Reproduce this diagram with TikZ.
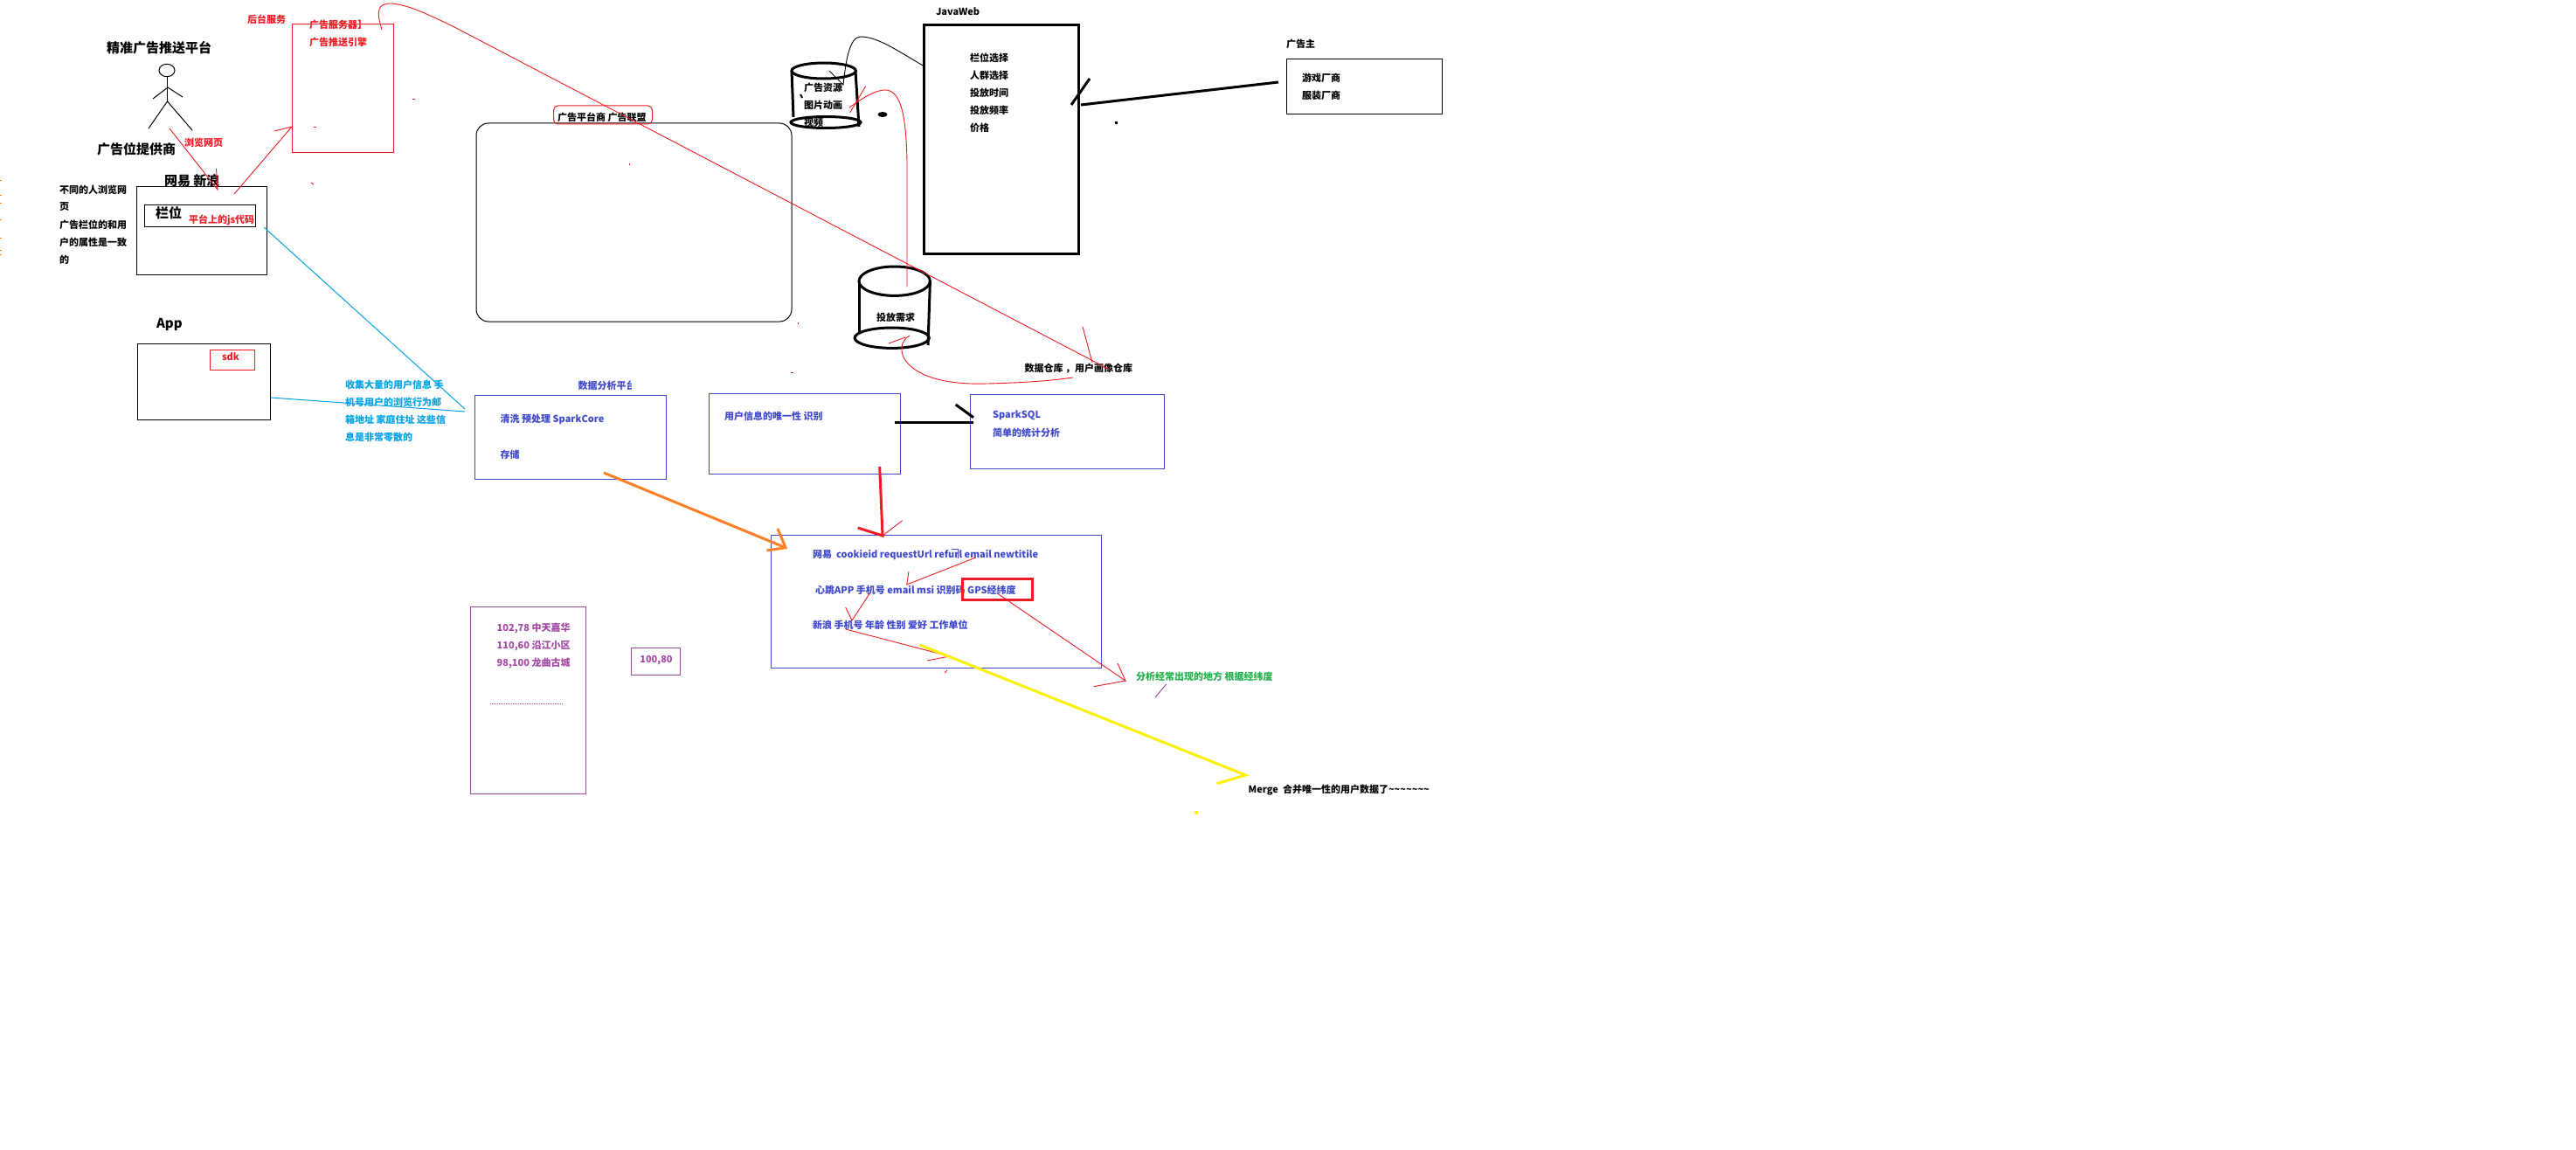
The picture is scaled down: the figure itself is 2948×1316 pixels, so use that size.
\documentclass[tikz,border=0pt]{standalone}
\usepackage{fontspec}
\setmainfont{Noto Sans CJK SC}
\usepackage{tikz}
\usetikzlibrary{calc}

\definecolor{inkred}{RGB}{237,28,36}
\definecolor{inkblue}{RGB}{63,72,204}
\definecolor{inkcyan}{RGB}{0,162,232}
\definecolor{inkorange}{RGB}{255,127,39}
\definecolor{inkyellow}{RGB}{255,242,0}
\definecolor{inkgreen}{RGB}{34,177,76}
\definecolor{inkpurple}{RGB}{163,73,164}

\tikzset{
  box/.style={draw,inner sep=0pt,outer sep=0pt},
  label/.style={inner sep=0pt,outer sep=0pt,anchor=west,font=\fontsize{11}{11}\selectfont\bfseries},
  headline/.style={inner sep=0pt,outer sep=0pt,anchor=west,font=\fontsize{15}{15}\selectfont\bfseries},
  thinred/.style={draw=inkred,line width=0.9pt},
  heavy/.style={line width=3pt}
}

\begin{document}
\begin{tikzpicture}[x=1pt,y=-1pt,line width=1pt]
    \path[use as bounding box,fill=white] (0,0) rectangle (2948,1316);

    % Смуга зліва
    \foreach \y in {207,224,233,252,272,286,291}
        \draw[inkorange] (0,\y) -- (1.5,\y);

    % Людина
    \coordinate (head) at (191,80.5);
    \coordinate (neck) at (191.5,88);
    \coordinate (hip) at (191.5,116);
    \coordinate (shoulder) at (192,100);
    \coordinate (handL) at (175,113);
    \coordinate (handR) at (209,111);
    \coordinate (footL) at (170,147);
    \coordinate (footR) at (220,149);
    \draw (head) ellipse [x radius=9pt,y radius=7.2pt];
    \draw (neck) -- (hip);
    \draw (handL) -- (shoulder) -- (handR);
    \draw (footL) -- (hip) -- (footR);

    % Лівий стовпчик
    \node[headline] (platform) at (122,55) {精准广告推送平台};
    \node[headline] (provider) at (111,171) {广告位提供商};
    \node[headline] (sites) at (188,207) {网易 新浪};
    \node[box,minimum width=149pt,minimum height=101pt] (sitebox) at (231,264) {};
    \node[box,minimum width=127pt,minimum height=25pt] (slotbox) at (229,247) {};
    \node[headline] (slot) at (178,244) {栏位};
    \node[label,inkred] (jscode) at (216,252) {平台上的js代码};
    \node[label] (note1) at (68,217) {不同的人浏览网};
    \node[label] (note2) at (68,237) {页};
    \node[label] (note3) at (68,257) {广告栏位的和用};
    \node[label] (note4) at (68,277) {户的属性是一致};
    \node[label] (note5) at (68,297) {的};
    \node[headline] (app) at (179,371) {App};
    \node[box,minimum width=152pt,minimum height=87pt] (appbox) at (233.5,437) {};
    \node[box,draw=inkred,minimum width=51pt,minimum height=23pt] (sdkbox) at (265.5,412) {};
    \node[label,inkred,anchor=center] (sdk) at (264,408) {sdk};
    \node[label,inkcyan] (collect1) at (395,440) {收集大量的用户信息 手};
    \node[label,inkcyan] (collect2) at (395,460) {机号用户的浏览行为邮};
    \node[label,inkcyan] (collect3) at (395,480) {箱地址 家庭住址 这些信};
    \node[label,inkcyan] (collect4) at (395,500) {息是非常零散的};

    % Сервер реклами
    \node[label,inkred] (backend) at (283,22) {后台服务};
    \node[box,draw=inkred,minimum width=116pt,minimum height=147pt] (serverbox) at (392.5,101) {};
    \node[label,inkred] (server) at (354,28) {广告服务器】};
    \node[label,inkred] (engine) at (354,48) {广告推送引擎};

    % Рекламна платформа
    \node[box,rounded corners=14pt,minimum width=361pt,minimum height=227pt] (adbox) at (725.5,254.5) {};
    \node[box,draw=inkred,rounded corners=5pt,minimum width=113pt,minimum height=21pt] (unionbox) at (690,131.5) {};
    \node[label] (union) at (638,134) {广告平台商 广告联盟};

    % Циліндр ресурсів
    \coordinate (resTop) at (942.7,81);
    \coordinate (resBot) at (945,140);
    \draw[heavy] (resTop) ellipse [x radius=36.7pt,y radius=9pt];
    \draw[heavy] (resBot) ellipse [x radius=40pt,y radius=6.5pt];
    \draw[heavy] (906,81) -- (908,134);
    \draw[heavy] (979,81) -- (983,145);
    \node[label] (res1) at (920,100) {广告资源};
    \node[label] (res2) at (920,120) {图片动画};
    \node[label] (res3) at (920,140) {视频};

    % Циліндр потреб
    \coordinate (needTop) at (1023.7,321.7);
    \coordinate (needBot) at (1020.7,386.7);
    \draw[heavy] (needTop) ellipse [x radius=40.7pt,y radius=16.7pt];
    \draw[heavy] (needBot) ellipse [x radius=42.6pt,y radius=11.7pt];
    \draw[heavy] (983.7,322) -- (983.7,382);
    \draw[heavy] (1064.4,322) -- (1062,395);
    \node[label,anchor=center] (need) at (1025,363) {投放需求};

    % JavaWeb
    \node[label] (javaweb) at (1071,13) {JavaWeb};
    \node[box,line width=3pt,minimum width=176.7pt,minimum height=261pt] (webbox) at (1146.3,159.5) {};
    \node[label] (web1) at (1110,66.7) {栏位选择};
    \node[label] (web2) at (1110,86.7) {人群选择};
    \node[label] (web3) at (1110,106.7) {投放时间};
    \node[label] (web4) at (1110,126.7) {投放频率};
    \node[label] (web5) at (1110,146.7) {价格};

    % Рекламодавець
    \node[label] (owner) at (1472,50) {广告主};
    \node[box,minimum width=177.7pt,minimum height=63pt] (ownerbox) at (1561.8,99.5) {};
    \node[label] (owner1) at (1490,89) {游戏厂商};
    \node[label] (owner2) at (1490,109) {服装厂商};

    % Синя частина
    \begin{scope}
        \clip (650,430) rectangle (722,455);
        \node[label,inkblue] (analysis) at (661.5,441.7) {数据分析平台};
    \end{scope}
    \node[box,draw=inkblue,minimum width=219.5pt,minimum height=96pt] (cleanbox) at (653,500.3) {};
    \node[label,inkblue] (clean) at (572.6,480) {清洗 预处理 SparkCore};
    \node[label,inkblue] (store) at (572.6,520) {存储};
    \node[box,draw=inkblue,minimum width=219.5pt,minimum height=92.3pt] (idbox) at (921.2,496.8) {};
    \node[label,inkblue] (idtext) at (829,476.7) {用户信息的唯一性 识别};
    \node[box,draw=inkblue,minimum width=222.3pt,minimum height=85.3pt] (sqlbox) at (1221.8,494.3) {};
    \node[label,inkblue] (sql) at (1136,475) {SparkSQL};
    \node[label,inkblue] (stat) at (1136,495) {简单的统计分析};
    \node[label] (warehouse) at (1172.6,422) {数据仓库 ，用户画像仓库};

    % Об'єднання полів
    \node[box,draw=inkblue,minimum width=378.3pt,minimum height=152.3pt] (mergebox) at (1071.8,688.8) {};
    \node[label,inkblue] (row1) at (930,635) {网易\ \ cookieid requestUrl refurl email newtitile};
    \node[label,inkblue] (row2) at (933,675) {心跳APP 手机号 email msi 识别码 GPS经纬度};
    \node[label,inkblue] (row3) at (930,715) {新浪 手机号 年龄 性别 爱好 工作单位};
    \node[box,draw=inkred,line width=3pt,minimum width=80pt,minimum height=24.7pt] (gpsbox) at (1141.7,674.4) {};
    \node[label,inkgreen] (often) at (1300,774) {分析经常出现的地方 根据经纬度};
    \node[label] (merged) at (1428.7,904) {Merge\ \ 合并唯一性的用户数据了\textasciitilde\textasciitilde\textasciitilde\textasciitilde\textasciitilde\textasciitilde\textasciitilde};

    % Фіолетові блоки
    \node[box,draw=inkpurple,minimum width=132pt,minimum height=213.7pt] (placebox) at (604.3,801.2) {};
    \node[label,inkpurple] (place1) at (568.7,719) {102,78 中天嘉华};
    \node[label,inkpurple] (place2) at (568.7,739) {110,60 沿江小区};
    \node[label,inkpurple] (place3) at (568.7,759) {98,100 龙曲古城};
    \node[box,draw=inkpurple,minimum width=56pt,minimum height=31pt] (pointbox) at (750.3,756.8) {};
    \node[label,inkpurple,anchor=center] (point) at (751,756) {100,80};
    \coordinate (dotsA) at (561,805.7);
    \coordinate (dotsB) at (645,805.7);
    \draw[inkpurple,dash pattern=on 1pt off 1pt] (dotsA) -- (dotsB);

    % Тонкі червоні стрілки
    \coordinate (visitA) at (194,147);
    \coordinate (visitB) at (249,217);
    \coordinate (visitC) at (247.5,193);
    \draw[thinred] (visitA) -- (visitB) -- (visitC);
    \node[label,inkred] (visit) at (211,163) {浏览网页};
    \coordinate (pushA) at (268,222);
    \coordinate (pushB) at (334,145);
    \coordinate (pushC) at (314,150);
    \draw[thinred] (pushA) -- (pushB) -- (pushC);

    % Довга лінія до сховища
    \coordinate (longA) at (437,34);
    \coordinate (longB) at (447,4);
    \coordinate (longC) at (520,31);
    \coordinate (longD) at (1270,423);
    \draw[thinred] (longA) .. controls (431,14) and (431,4) .. (longB)
        .. controls (465,5) and (485,14) .. (longC) -- (longD);
    \coordinate (longH) at (1239,374);
    \coordinate (longI) at (1250,415);
    \draw[thinred] (longH) -- (longI);

    % Вигнуті лінії
    \coordinate (backA) at (1038,328);
    \coordinate (backB) at (1038,185);
    \coordinate (backC) at (972,123);
    \draw[thinred] (backA) -- (backB) .. controls (1037,140) and (1033,103) .. (1013,103)
        .. controls (1003,103) and (990,110) .. (backC);
    \coordinate (backH) at (990.6,98.7);
    \coordinate (backI) at (972.7,129);
    \draw[thinred] (backH) -- (backI);
    \coordinate (wareA) at (1228,432);
    \coordinate (wareB) at (1041,384);
    \draw[thinred] (wareA) .. controls (1200,436) and (1170,438) .. (1130,439)
        .. controls (1100,440) and (1060,437) .. (1040,417)
        .. controls (1028,405) and (1030,390) .. (wareB);
    \coordinate (wareH) at (1017,393);
    \coordinate (wareI) at (1036,386);
    \draw[thinred] (wareH) -- (wareI);

    \coordinate (webA) at (1058,76);
    \coordinate (webB) at (965,97);
    \coordinate (webH) at (949,81);
    \draw[line width=0.9pt] (webA) .. controls (1030,60) and (1005,42) .. (985,42)
        .. controls (972,42) and (968,70) .. (webB) -- (webH);

    % Блакитні лінії
    \coordinate (cyanA) at (302,260);
    \coordinate (cyanB) at (532,468);
    \draw[inkcyan] (cyanA) -- (cyanB);
    \coordinate (cyanC) at (310,455);
    \coordinate (cyanD) at (532,471);
    \draw[inkcyan] (cyanC) -- (cyanD);

    % Чорні товсті стрілки
    \coordinate (ownerA) at (1463,94);
    \coordinate (ownerB) at (1237,120);
    \coordinate (ownerH) at (1247,90);
    \coordinate (ownerI) at (1226,120);
    \draw[heavy] (ownerA) -- (ownerB);
    \draw[heavy] (ownerH) -- (ownerI);
    \coordinate (idA) at (1024.4,483.3);
    \coordinate (idB) at (1114.4,483.3);
    \coordinate (idH) at (1093.7,463);
    \coordinate (idI) at (1114,477.7);
    \draw[heavy] (idA) -- (idB);
    \draw[heavy] (idH) -- (idI);

    % Кольорові стрілки
    \coordinate (cleanA) at (691,541);
    \coordinate (cleanB) at (899,626.7);
    \coordinate (cleanH) at (890,605);
    \coordinate (cleanI) at (877.4,630);
    \draw[inkorange,heavy] (cleanA) -- (cleanB);
    \draw[inkorange,heavy] (cleanH) -- (cleanB) -- (cleanI);
    \coordinate (redA) at (1006.7,534);
    \coordinate (redB) at (1010,613);
    \coordinate (redH) at (981.7,604);
    \draw[inkred,heavy] (redA) -- (redB) -- (redH);
    \coordinate (redI) at (1032.7,595.7);
    \draw[thinred] (redI) -- (redB);

    % Стрілки між рядками
    \coordinate (rowA) at (1116.7,638);
    \coordinate (rowB) at (1037.7,669);
    \coordinate (rowC) at (1040,654);
    \draw[thinred] (rowA) -- (rowB) -- (rowC);
    \coordinate (rowD) at (996,678);
    \coordinate (rowE) at (975,710);
    \coordinate (rowF) at (967.7,695);
    \draw[thinred] (rowD) -- (rowE) -- (rowF);
    \coordinate (rowG) at (967.7,720);
    \coordinate (rowH) at (1086.7,751);
    \coordinate (rowI) at (1061,756);
    \draw[thinred] (rowG) -- (rowH) -- (rowI);
    \coordinate (gpsA) at (1141.7,679.3);
    \coordinate (gpsB) at (1288,779);
    \coordinate (gpsH) at (1279,759);
    \coordinate (gpsI) at (1251.7,785.7);
    \draw[thinred] (gpsA) -- (gpsB) -- (gpsH);
    \draw[thinred] (gpsB) -- (gpsI);
    \coordinate (brkA) at (1089,628);
    \coordinate (brkB) at (1096,628);
    \coordinate (brkC) at (1096,639);
    \draw[inkblue] (brkA) -- (brkB) -- (brkC);

    % Жовта стрілка
    \coordinate (mergeA) at (1052.7,738);
    \coordinate (mergeB) at (1425.5,887);
    \coordinate (mergeH) at (1392.7,896.7);
    \draw[inkyellow,heavy] (mergeA) -- (mergeB) -- (mergeH);

    % Фіолетовий штрих
    \coordinate (tickA) at (1334.6,783);
    \coordinate (tickB) at (1322,798);
    \draw[inkpurple] (tickA) -- (tickB);

    % Дрібні позначки
    \fill[inkyellow] (1367,928) rectangle (1371,932);
    \fill (1275.5,139.5) rectangle (1278.5,142.5);
    \fill (1010,131) ellipse [x radius=5.5pt,y radius=3pt];
    \draw[line width=2pt] (916,108) -- (918,112);
    \draw[thinred] (472,113) -- (475,113);
    \draw[thinred] (359,145) -- (362,145);
    \draw[thinred] (356,209) -- (359,211);
    \draw[thinred] (720,187) -- (720,189);
    \draw[thinred] (913,369) -- (913,371);
    \draw[thinred] (905,426.7) -- (908,426.7);
    \draw[thinred] (1081,770) -- (1084,767);
\end{tikzpicture}
\end{document}
